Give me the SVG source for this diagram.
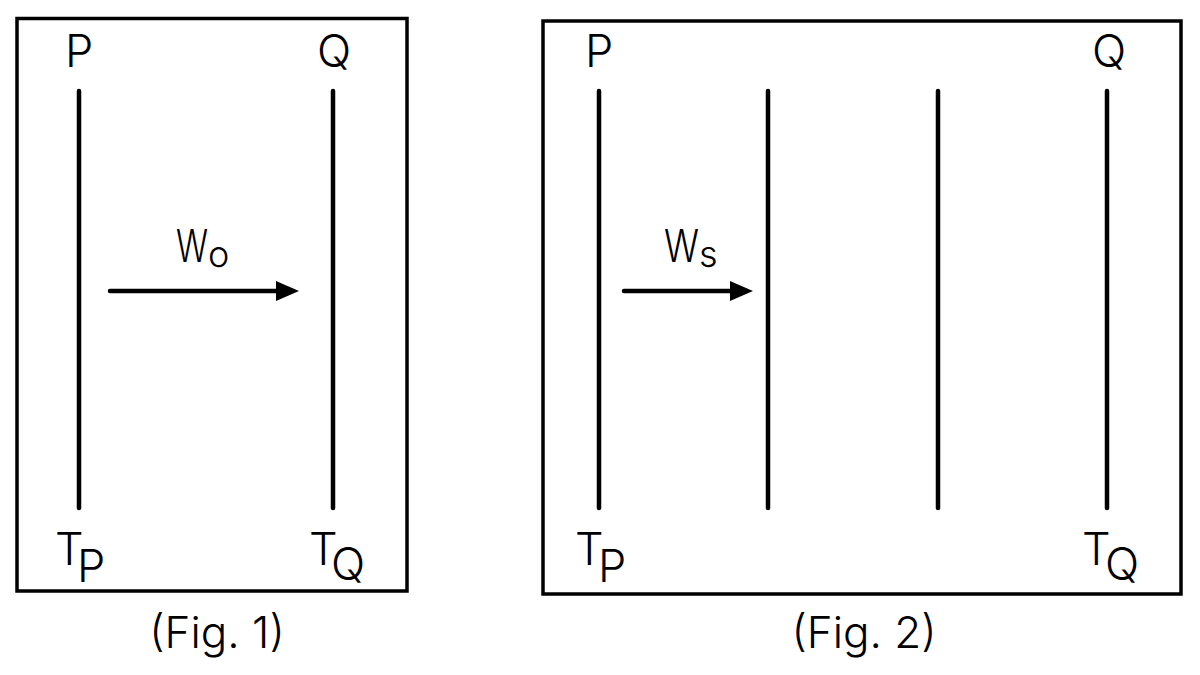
<svg xmlns="http://www.w3.org/2000/svg" width="1200" height="675" viewBox="0 0 1200 675">
<defs>
<style>
.box{fill:none;stroke:#000;stroke-width:3.5}
.bar{stroke:#000;stroke-width:4.5;stroke-linecap:round}
.arr{stroke:#000;stroke-width:4.5;stroke-linecap:round}
.head{fill:#000}
text{font-family:Inter,"Liberation Sans",sans-serif;fill:#000;font-weight:350}
.lbl{font-size:45px}
.sub{font-size:36px}
.cap{font-size:44px}
</style>
</defs>
<rect width="1200" height="675" fill="#fff"/>
<g id="fig1">
<rect class="box" x="17" y="18.5" width="390" height="572.5"/>
<g id="fig1-P"><line class="bar" x1="79" y1="91" x2="79" y2="508"/>
<text class="lbl" x="65" y="67">P</text>
<text class="lbl" x="55" y="565">T<tspan x="77" y="582">P</tspan></text></g>
<g id="fig1-Q"><line class="bar" x1="333" y1="91" x2="333" y2="508"/>
<text class="lbl" x="317" y="67">Q</text>
<text class="lbl" x="309" y="565">T<tspan x="331" y="580">Q</tspan></text></g>
<text class="cap" x="217" y="648" text-anchor="middle">(Fig. 1)</text>
</g>
<g id="fig2">
<rect class="box" x="543" y="21" width="638" height="573"/>
<g id="fig2-P"><line class="bar" x1="599" y1="91" x2="599" y2="508"/>
<text class="lbl" x="585" y="67">P</text>
<text class="lbl" x="575" y="565">T<tspan x="598" y="582">P</tspan></text></g>
<g id="fig2-m1"><line class="bar" x1="768" y1="91" x2="768" y2="508"/></g>
<g id="fig2-m2"><line class="bar" x1="938" y1="91" x2="938" y2="508"/></g>
<g id="fig2-Q"><line class="bar" x1="1107" y1="91" x2="1107" y2="508"/>
<text class="lbl" x="1092" y="67">Q</text>
<text class="lbl" x="1082" y="565">T<tspan x="1105" y="580">Q</tspan></text></g>
<text class="cap" x="864" y="648" text-anchor="middle">(Fig. 2)</text>
</g>
<g id="connectors">
<line class="arr" x1="110" y1="291" x2="278" y2="291"/>
<polygon class="head" points="276,281 299,291 276,301"/>
<text class="lbl" x="176" y="262"><tspan textLength="32" lengthAdjust="spacingAndGlyphs">W</tspan><tspan class="sub" x="208" y="267">o</tspan></text>
<line class="arr" x1="624" y1="291" x2="732" y2="291"/>
<polygon class="head" points="730,281 753,291 730,301"/>
<text class="lbl" x="664" y="262"><tspan textLength="35" lengthAdjust="spacingAndGlyphs">W</tspan><tspan class="sub" x="699" y="267">s</tspan></text>
</g>
</svg>
